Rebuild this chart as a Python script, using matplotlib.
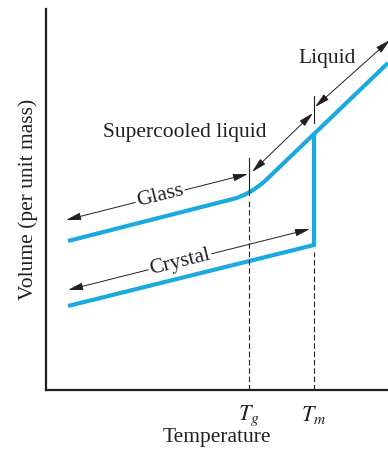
import matplotlib
matplotlib.use('Agg')
import matplotlib.pyplot as plt
from matplotlib.path import Path
from matplotlib.patches import PathPatch
import numpy as np

plt.rcParams['font.family'] = ['Liberation Serif', 'DejaVu Serif']
plt.rcParams['mathtext.fontset'] = 'stix'

# data (temperature, volume in arbitrary units)
glass_T = [22, 187, 203, 219, 268, 342]
glass_V = [149, 191, 195, 209, 256, 327]
crystal_T = [22, 268, 268]
crystal_V = [84, 145, 256]
Tg = 203
Tm = 268
tick_labels = [r'$T_g$', r'$T_m$']

# double-headed arrows: (start, end)
arrow_liquid = [(269, 283), (344, 350)]
arrow_super = [(206, 218), (267, 277)]
arrow_glass = [(202, 216), (20, 170)]
arrow_crystal = [(264, 161), (22, 100)]

blue = '#1aa9e1'
ink = '#231f20'

fig = plt.figure(figsize=(3.88, 4.51), dpi=100)
ax = fig.add_axes([46/388, 61/451, 342/388, 381/451])
ax.set_xlim(0, 342)
ax.set_ylim(0, 381)

# glass / supercooled / liquid curve
codes = [Path.MOVETO, Path.LINETO, Path.CURVE3, Path.CURVE3, Path.LINETO, Path.LINETO]
path = Path(np.column_stack([glass_T, glass_V]), codes)
ax.add_patch(PathPatch(path, fill=False, ec=blue, lw=3, capstyle='butt', joinstyle='miter', clip_on=False))

# crystal
ax.plot(crystal_T, crystal_V, color=blue, lw=3, solid_capstyle='butt', solid_joinstyle='miter', clip_on=False)

# Tg and Tm markers
ax.plot([Tg, Tg], [0, 190], color=ink, lw=0.8, dashes=(5, 2.5))
ax.plot([Tg, Tg], [195, 232], color=ink, lw=0.8)
ax.plot([Tm, Tm], [0, 138], color=ink, lw=0.8, dashes=(5, 2.5))
ax.plot([Tm, Tm], [267, 294], color=ink, lw=0.8)

# arrows
for a in [arrow_liquid, arrow_super, arrow_glass, arrow_crystal]:
    ax.annotate('', xy=a[1], xytext=a[0], annotation_clip=False,
                arrowprops=dict(arrowstyle='<|-|>,head_length=0.9,head_width=0.22',
                                color=ink, lw=0.7, shrinkA=0, shrinkB=0))

fs = 15.5
box = dict(facecolor='white', edgecolor='none', pad=1)
ax.text(281, 331, 'Liquid', fontsize=fs, color=ink, ha='center', va='center')
ax.text(139, 257, 'Supercooled liquid', fontsize=fs, color=ink, ha='center', va='center')
ax.text(114, 194, 'Glass', fontsize=fs, color=ink, ha='center', va='center',
        rotation=14, rotation_mode='anchor', bbox=box)
ax.text(134, 128, 'Crystal', fontsize=fs, color=ink, ha='center', va='center',
        rotation=14, rotation_mode='anchor', bbox=box)

# axes styling
for s in ['top', 'right']:
    ax.spines[s].set_visible(False)
for s in ['left', 'bottom']:
    ax.spines[s].set_linewidth(1.6)
    ax.spines[s].set_color(ink)
ax.set_yticks([])
ax.set_xticks([Tg, Tm])
ax.set_xticklabels(tick_labels, fontsize=16, color=ink)
ax.tick_params(axis='x', length=0, pad=10)
ax.set_xlabel('Temperature', fontsize=fs, color=ink, labelpad=0)
ax.set_ylabel('Volume (per unit mass)', fontsize=fs, color=ink, labelpad=6)

fig.savefig('out.png', dpi=100)
